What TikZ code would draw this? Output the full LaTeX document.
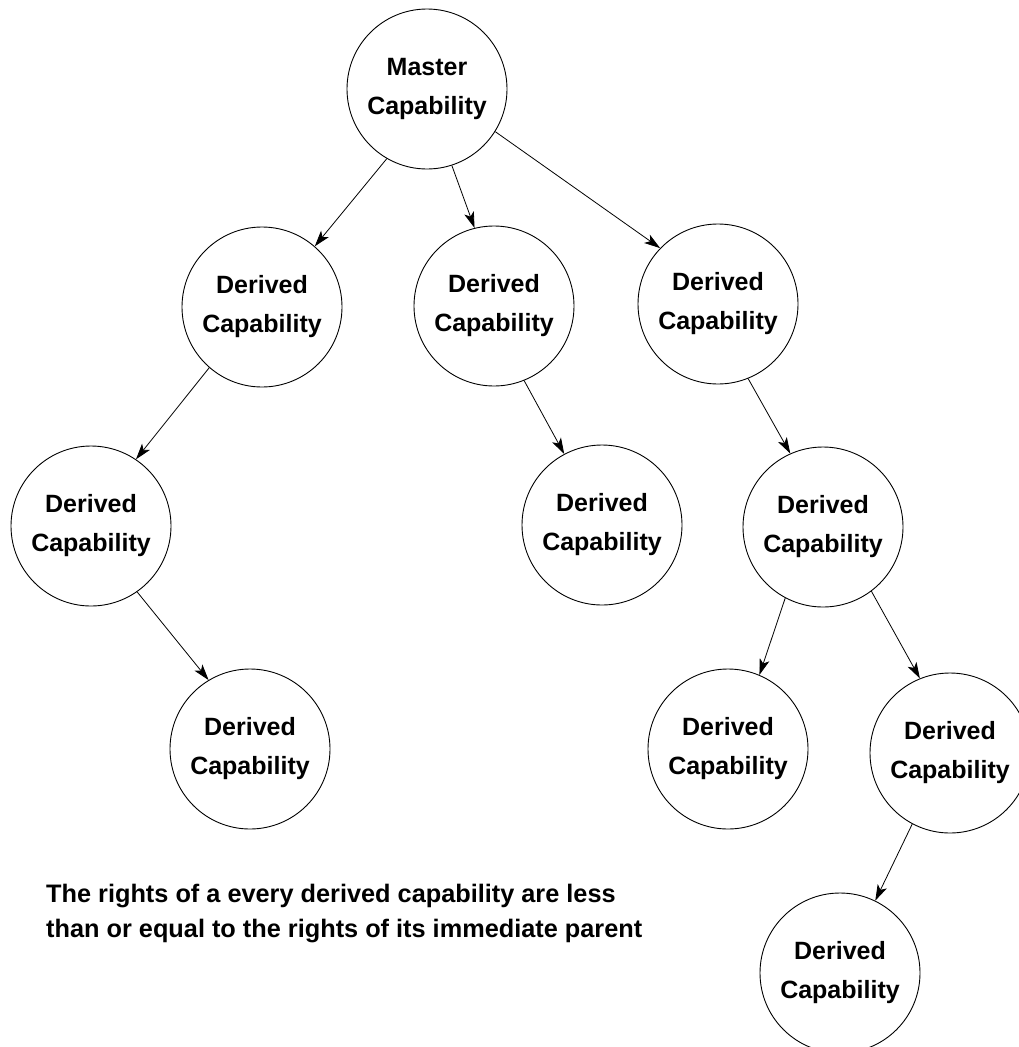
\documentclass[tikz,border=0pt]{standalone}
\usepackage{fontspec}
\setmainfont{Liberation Sans}
\usetikzlibrary{arrows.meta}

\begin{document}
\begin{tikzpicture}[x=1pt,y=-1pt,
  capnode/.style={circle,draw,line width=0.9pt,minimum size=160pt,inner sep=0pt,
    align=center,font=\fontsize{25}{39}\selectfont\bfseries},
  link/.style={-{Stealth[length=16pt,width=10pt,inset=4pt]},line width=0.8pt},
  note/.style={anchor=base west,inner sep=0pt,
    font=\fontsize{25.3}{35}\selectfont\bfseries}]
\useasboundingbox (0,0) rectangle (1018,1047);

% capability tree
\node[capnode] (m)    at (427,89)  {Master\\Capability};
\node[capnode] (d1)   at (262,307) {Derived\\Capability};
\node[capnode] (d2)   at (494,306) {Derived\\Capability};
\node[capnode] (d3)   at (718,304) {Derived\\Capability};
\node[capnode] (d1c)  at (91,526)  {Derived\\Capability};
\node[capnode] (d2c)  at (602,525) {Derived\\Capability};
\node[capnode] (d3c)  at (823,527) {Derived\\Capability};
\node[capnode] (d1gc) at (250,749) {Derived\\Capability};
\node[capnode] (d3l)  at (728,749) {Derived\\Capability};
\node[capnode] (d3r)  at (950,753) {Derived\\Capability};
\node[capnode] (d3b)  at (840,973) {Derived\\Capability};

% derivation arrows
\draw[link] (m.240.6)   -- (d1.49.5);
\draw[link] (m.288.7)   -- (d2.104.4);
\draw[link] (m.328.9)   -- (d3.136.8);
\draw[link] (d1.229.4)  -- (d1c.56.7);
\draw[link] (d1c.305.2) -- (d1gc.121.8);
\draw[link] (d2.292.2)  -- (d2c.118.2);
\draw[link] (d3.292.8)  -- (d3c.114.3);
\draw[link] (d3c.242.8) -- (d3l.67.9);
\draw[link] (d3c.307.9) -- (d3r.112.7);
\draw[link] (d3r.242.4) -- (d3b.64);

% caption
\node[note] (n1) at (46,902) {The rights of a every derived capability are less};
\node[note] (n2) at (46,937) {than or equal to the rights of its immediate parent};
\end{tikzpicture}
\end{document}
